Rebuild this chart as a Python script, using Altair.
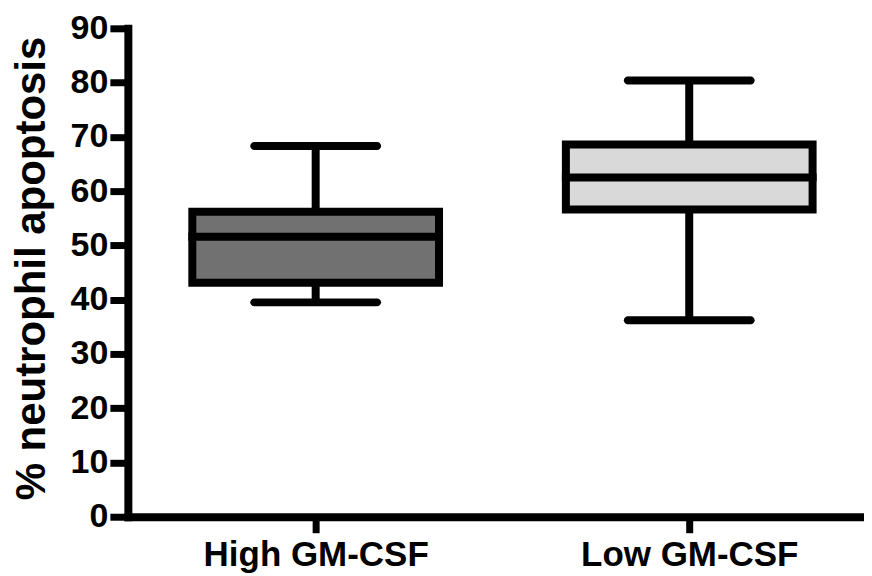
import altair as alt
import pandas as pd

# ---- data ----
groups = ["High GM-CSF", "Low GM-CSF"]
whisker_low = [39.5, 36.2]
q1 = [43.1, 56.6]
median = [51.6, 62.5]
q3 = [56.2, 68.6]
whisker_high = [68.3, 80.4]
fills = ["#717171", "#d9d9d9"]

df = pd.DataFrame({
    "group": groups,
    "low": whisker_low,
    "q1": q1,
    "median": median,
    "q3": q3,
    "high": whisker_high,
    "fill": fills,
})

FONT = "Liberation Sans"
Y_TITLE = "% neutrophil apoptosis"

y_scale = alt.Scale(domain=[0, 90], nice=False, zero=True)
y_axis = alt.Axis(
    values=list(range(0, 91, 10)),
    domainColor="black", domainWidth=8, domainCap="square",
    tickColor="black", tickWidth=7, tickSize=18,
    labelFont=FONT, labelFontSize=34, labelFontWeight="bold", labelColor="black",
    labelPadding=2, labelLimit=0,
    titleFont=FONT, titleFontSize=42, titleFontWeight="bold", titleColor="black",
    titleAngle=-90, titleAlign="center", titleBaseline="alphabetic",
    titleX=-83, titleY=240, titleLimit=0,
    grid=False,
)
x_axis = alt.Axis(
    domainColor="black", domainWidth=8, domainCap="square",
    tickColor="black", tickWidth=7, tickSize=16,
    labelFont=FONT, labelFontSize=35, labelFontWeight="bold", labelColor="black",
    labelPadding=5, labelAngle=0, labelLimit=0, grid=False, title=None,
)
x_enc = alt.X("group:N", sort=groups, title=None, axis=x_axis,
              scale=alt.Scale(type="point", padding=0.4853, align=0.518))

base = alt.Chart(df).encode(x=x_enc)

def Y(field):
    return alt.Y(f"{field}:Q", scale=y_scale, axis=y_axis, title=Y_TITLE)

whisker = base.mark_rule(strokeWidth=8, color="black").encode(y=Y("low"), y2="high:Q")
cap_low = base.mark_tick(size=131, thickness=8, color="black", cornerRadius=4, opacity=1).encode(y=Y("low"))
cap_high = base.mark_tick(size=131, thickness=8, color="black", cornerRadius=4, opacity=1).encode(y=Y("high"))
box = base.mark_bar(size=247, stroke="black", strokeWidth=8, opacity=1).encode(
    y=Y("q1"), y2="q3:Q", fill=alt.Fill("fill:N", scale=None, legend=None)
)
med = base.mark_tick(size=255, thickness=8, color="black", opacity=1).encode(y=Y("median"))

chart = alt.layer(whisker, cap_low, cap_high, box, med).properties(
    width=737, height=489,
    autosize=alt.AutoSizeParams(type="none"),
    padding={"left": 120, "top": 20, "right": 0, "bottom": 58},
    background="white",
).configure_view(stroke=None)

chart.save("out.html", embed_options={"renderer": "svg", "actions": False})
